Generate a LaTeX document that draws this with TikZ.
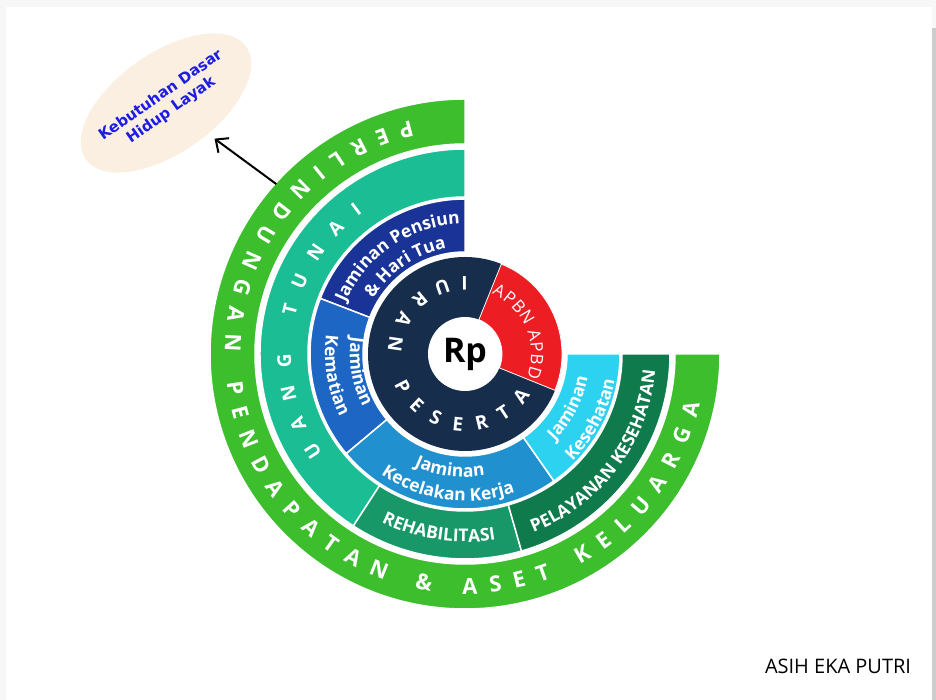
\documentclass[tikz,border=0pt]{standalone}
\usepackage{fontspec}
\setmainfont{Open Sans}
\newfontfamily\dejavu{DejaVu Sans}
\usetikzlibrary{decorations.text,shapes.geometric,arrows.meta}

\definecolor{ringgreen}{RGB}{60,190,45}
\definecolor{tunaiteal}{RGB}{27,190,148}
\definecolor{rehabgreen}{RGB}{24,152,104}
\definecolor{pelayanangreen}{RGB}{15,122,76}
\definecolor{pensiunblue}{RGB}{25,52,150}
\definecolor{kematianblue}{RGB}{30,102,196}
\definecolor{kecelakaanblue}{RGB}{32,144,206}
\definecolor{kesehatancyan}{RGB}{45,210,240}
\definecolor{iurannavy}{RGB}{22,45,75}
\definecolor{apbnred}{RGB}{236,30,36}
\definecolor{ellipsefill}{RGB}{251,239,226}
\definecolor{kdhlblue}{RGB}{28,28,228}

\newcommand{\outerfont}{\fontsize{22}{22}\selectfont\bfseries}
\newcommand{\tunaifont}{\fontsize{19}{19}\selectfont\bfseries}
\newcommand{\iuranfont}{\fontsize{19}{19}\selectfont\bfseries}
\newcommand{\apbnfont}{\fontsize{17}{17}\selectfont}
\newcommand{\jamfont}{\fontsize{17.5}{17.5}\selectfont\bfseries}
\newcommand{\capsfont}{\fontsize{17.5}{17.5}\selectfont\bfseries}

\begin{document}
\begin{tikzpicture}[
  x=1pt, y=1pt,
  sector/.style={draw=white, line width=1.5pt},
  arctext/.style={decorate, decoration={text along path, text color=white, text align=center, text={#1}}},
  fittext/.style={decorate, decoration={text along path, text color=white, text align=fit to path, text={#1}}},
  arrow/.style={-{Straight Barb[length=10pt,width=18pt]}, line width=2pt}
]
\useasboundingbox (0,0) rectangle (936,700);
% slide frame
\fill[gray!6] (0,0) rectangle (936,700);
\fill[white] (6,0) rectangle (932,693);
\fill[gray!40] (932,0) rectangle (936,672);

\coordinate (C) at (465,346);

% Outer ring
\filldraw[sector, fill=ringgreen] ([shift={(C)}]90:210pt) arc[start angle=90, end angle=360, radius=210pt] -- ([shift={(C)}]0:255pt) arc[start angle=360, end angle=90, radius=255pt] -- cycle;

% Second ring
\filldraw[sector, fill=tunaiteal] ([shift={(C)}]90:157pt) arc[start angle=90, end angle=237, radius=157pt] -- ([shift={(C)}]237:205pt) arc[start angle=237, end angle=90, radius=205pt] -- cycle;
\filldraw[sector, fill=rehabgreen] ([shift={(C)}]237:157pt) arc[start angle=237, end angle=286, radius=157pt] -- ([shift={(C)}]286:205pt) arc[start angle=286, end angle=237, radius=205pt] -- cycle;
\filldraw[sector, fill=pelayanangreen] ([shift={(C)}]286:157pt) arc[start angle=286, end angle=360, radius=157pt] -- ([shift={(C)}]0:205pt) arc[start angle=360, end angle=286, radius=205pt] -- cycle;

% Third ring
\filldraw[sector, fill=pensiunblue] ([shift={(C)}]90:102pt) arc[start angle=90, end angle=159, radius=102pt] -- ([shift={(C)}]159:155pt) arc[start angle=159, end angle=90, radius=155pt] -- cycle;
\filldraw[sector, fill=kematianblue] ([shift={(C)}]159:102pt) arc[start angle=159, end angle=220, radius=102pt] -- ([shift={(C)}]220:155pt) arc[start angle=220, end angle=159, radius=155pt] -- cycle;
\filldraw[sector, fill=kecelakaanblue] ([shift={(C)}]220:102pt) arc[start angle=220, end angle=305, radius=102pt] -- ([shift={(C)}]305:155pt) arc[start angle=305, end angle=220, radius=155pt] -- cycle;
\filldraw[sector, fill=kesehatancyan] ([shift={(C)}]305:102pt) arc[start angle=305, end angle=360, radius=102pt] -- ([shift={(C)}]0:155pt) arc[start angle=360, end angle=305, radius=155pt] -- cycle;

% Inner ring
\fill[iurannavy] (C) circle[radius=97pt];
\filldraw[fill=apbnred, draw=white, line width=0.8pt] ([shift={(C)}]-22:37pt) arc[start angle=-22, end angle=68, radius=37pt] -- ([shift={(C)}]68:97pt) arc[start angle=68, end angle=-22, radius=97pt] -- cycle;
\node[circle, fill=white, minimum size=74pt, inner sep=0pt, font=\fontsize{34}{34}\selectfont\bfseries] (rp) at (C) {Rp};

% Ring texts
\path[fittext={|\outerfont|PERLINDUNGAN PENDAPATAN {\&} ASET KELUARGA}] ([shift={(C)}]103:240pt) arc[start angle=103, end angle=348, radius=240pt];
\path[fittext={|\tunaifont|UANG TUNAI}] ([shift={(C)}]215:174pt) arc[start angle=215, end angle=126, radius=174pt];
\path[arctext={|\capsfont|REHABILITASI}] ([shift={(C)}]238:188pt) arc[start angle=238, end angle=285, radius=188pt];
\path[arctext={|\capsfont|PELAYANAN KESEHATAN}] ([shift={(C)}]287:191pt) arc[start angle=287, end angle=359, radius=191pt];

\path[arctext={|\jamfont|Jaminan Pensiun}] ([shift={(C)}]159:130pt) arc[start angle=159, end angle=90, radius=130pt];
\path[arctext={|\jamfont|{\&} Hari Tua}] ([shift={(C)}]158:107pt) arc[start angle=158, end angle=91, radius=107pt];
\path[arctext={|\jamfont|Jaminan}] ([shift={(C)}]160:115pt) arc[start angle=160, end angle=219, radius=115pt];
\path[arctext={|\jamfont|Kematian}] ([shift={(C)}]160:140pt) arc[start angle=160, end angle=219, radius=140pt];
\path[arctext={|\jamfont|Jaminan}] ([shift={(C)}]221:123pt) arc[start angle=221, end angle=304, radius=123pt];
\path[arctext={|\jamfont|Kecelakan Kerja}] ([shift={(C)}]221:147pt) arc[start angle=221, end angle=304, radius=147pt];
\path[arctext={|\jamfont|Jaminan}] ([shift={(C)}]306:125pt) arc[start angle=306, end angle=359, radius=125pt];
\path[arctext={|\jamfont|Kesehatan}] ([shift={(C)}]306:152pt) arc[start angle=306, end angle=359, radius=152pt];

\path[fittext={|\iuranfont|IURAN PESERTA}] ([shift={(C)}]88:77pt) arc[start angle=88, end angle=328, radius=77pt];
\path[fittext={|\apbnfont|APBN APBD}] ([shift={(C)}]66:66pt) arc[start angle=66, end angle=-21, radius=66pt];

% Kebutuhan dasar
\node[ellipse, fill=ellipsefill, minimum width=196pt, minimum height=100pt, inner sep=0pt, inner xsep=-14pt, rotate=35, align=center, text=kdhlblue, font=\dejavu\bfseries\fontsize{15}{18}\selectfont] (kdhl) at (166,597) {Kebutuhan Dasar\\Hidup Layak};
\coordinate (ringpt) at ([shift={(C)}]138:254pt);
\draw[arrow, shorten >=8pt] (ringpt) -- (kdhl);

% Author
\node[font=\fontsize{20}{24}\selectfont] (author) at (838,34) {ASIH EKA PUTRI};
\end{tikzpicture}
\end{document}
